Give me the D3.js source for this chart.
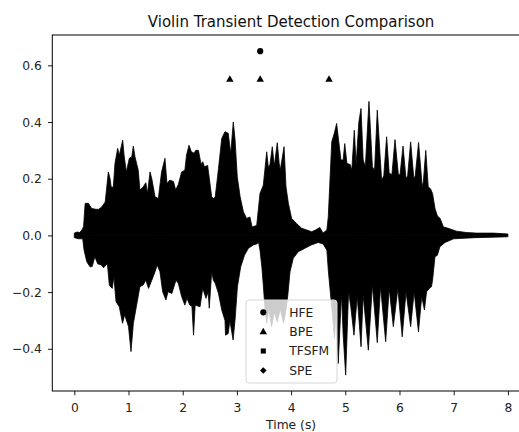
<!DOCTYPE html>
<html>
<head>
<meta charset="utf-8">
<script src="https://cdn.jsdelivr.net/npm/d3@7"></script>
<style>
  body { margin: 0; background: #fff; }
  svg { display: block; font-family: "DejaVu Sans", sans-serif; }
</style>
</head>
<body>
<svg id="chart" width="519" height="432"></svg>
<script>
// Waveform envelope of the violin recording (seconds, amplitude)
const upperTime = [0.00,0.05,0.10,0.14,0.17,0.20,0.26,0.32,0.40,0.45,0.505,0.57,0.628,0.66,0.68,0.72,0.75,0.80,0.83,0.893,0.92,0.96,1.015,1.06,1.089,1.12,1.18,1.21,1.27,1.32,1.35,1.397,1.43,1.49,1.55,1.61,1.673,1.71,1.76,1.83,1.87,1.92,1.98,2.04,2.07,2.116,2.16,2.21,2.24,2.29,2.34,2.37,2.40,2.46,2.535,2.57,2.60,2.66,2.72,2.78,2.84,2.886,2.933,2.965,3.007,3.06,3.12,3.18,3.24,3.28,3.365,3.426,3.487,3.55,3.58,3.61,3.653,3.69,3.745,3.78,3.80,3.87,3.906,3.95,4.01,4.10,4.195,4.29,4.38,4.45,4.53,4.59,4.66,4.686,4.75,4.797,4.84,4.88,4.92,4.96,4.99,5.03,5.09,5.12,5.166,5.20,5.25,5.29,5.33,5.37,5.437,5.50,5.54,5.59,5.67,5.71,5.763,5.81,5.86,5.917,5.98,6.01,6.065,6.12,6.15,6.206,6.265,6.29,6.352,6.42,6.44,6.485,6.53,6.57,6.61,6.655,6.70,6.75,6.81,6.90,7.05,7.24,7.42,7.73,8.00];
const upperAmp = [0.008,0.012,0.010,0.019,0.030,0.113,0.113,0.095,0.092,0.092,0.100,0.118,0.224,0.200,0.171,0.170,0.254,0.307,0.283,0.336,0.280,0.224,0.272,0.277,0.315,0.277,0.230,0.160,0.171,0.186,0.148,0.224,0.200,0.136,0.130,0.224,0.272,0.183,0.195,0.190,0.160,0.180,0.224,0.230,0.283,0.318,0.295,0.290,0.300,0.300,0.250,0.260,0.242,0.247,0.136,0.130,0.136,0.236,0.342,0.366,0.360,0.289,0.400,0.340,0.207,0.136,0.083,0.060,0.065,0.030,0.035,0.148,0.177,0.295,0.240,0.250,0.313,0.245,0.327,0.254,0.230,0.313,0.171,0.113,0.060,0.042,0.025,0.019,0.013,0.019,0.028,0.008,0.019,0.066,0.330,0.360,0.395,0.330,0.266,0.266,0.324,0.254,0.250,0.230,0.371,0.250,0.400,0.448,0.266,0.243,0.473,0.242,0.230,0.442,0.195,0.210,0.348,0.219,0.215,0.338,0.213,0.215,0.315,0.200,0.210,0.330,0.200,0.210,0.328,0.171,0.190,0.300,0.171,0.165,0.148,0.095,0.068,0.060,0.030,0.025,0.015,0.010,0.008,0.008,0.005];
const lowerTime = [0.00,0.08,0.155,0.18,0.23,0.29,0.33,0.38,0.43,0.505,0.54,0.61,0.646,0.70,0.73,0.77,0.83,0.89,0.93,1.00,1.046,1.09,1.15,1.21,1.27,1.32,1.37,1.43,1.49,1.53,1.58,1.63,1.69,1.73,1.80,1.876,1.92,1.98,2.04,2.08,2.13,2.17,2.20,2.23,2.32,2.37,2.43,2.47,2.49,2.535,2.565,2.60,2.66,2.72,2.78,2.79,2.84,2.87,2.93,2.965,3.01,3.07,3.14,3.21,3.30,3.365,3.40,3.426,3.46,3.487,3.52,3.55,3.59,3.64,3.69,3.745,3.80,3.86,3.906,3.94,3.98,4.04,4.13,4.25,4.37,4.50,4.59,4.66,4.686,4.72,4.76,4.80,4.83,4.87,4.93,4.96,5.007,5.06,5.10,5.16,5.22,5.29,5.33,5.425,5.50,5.59,5.65,5.745,5.81,5.886,5.97,6.05,6.12,6.206,6.27,6.35,6.41,6.46,6.50,6.55,6.59,6.61,6.655,6.70,6.745,6.84,7.00,7.40,8.00];
const lowerAmp = [-0.008,-0.012,-0.012,-0.052,-0.093,-0.111,-0.110,-0.075,-0.100,-0.105,-0.114,-0.100,-0.175,-0.187,-0.146,-0.234,-0.252,-0.310,-0.280,-0.322,-0.410,-0.310,-0.246,-0.181,-0.175,-0.158,-0.187,-0.158,-0.128,-0.105,-0.128,-0.199,-0.228,-0.199,-0.205,-0.158,-0.170,-0.216,-0.246,-0.222,-0.246,-0.250,-0.352,-0.246,-0.252,-0.187,-0.222,-0.199,-0.257,-0.128,-0.158,-0.169,-0.205,-0.263,-0.300,-0.352,-0.346,-0.300,-0.369,-0.300,-0.181,-0.111,-0.070,-0.046,-0.034,-0.030,-0.025,-0.052,-0.111,-0.175,-0.263,-0.310,-0.260,-0.322,-0.270,-0.305,-0.260,-0.310,-0.263,-0.210,-0.128,-0.081,-0.058,-0.046,-0.034,-0.025,-0.030,-0.052,-0.122,-0.193,-0.275,-0.363,-0.275,-0.452,-0.205,-0.350,-0.493,-0.199,-0.250,-0.352,-0.216,-0.393,-0.210,-0.405,-0.175,-0.378,-0.181,-0.375,-0.187,-0.322,-0.187,-0.358,-0.199,-0.322,-0.199,-0.340,-0.216,-0.263,-0.199,-0.187,-0.181,-0.158,-0.075,-0.070,-0.040,-0.025,-0.012,-0.008,-0.005];

// Detected transients per method
const methods = ["HFE", "BPE", "TFSFM", "SPE"];
const hfeTimes = [3.43];
const hfeLevel = 0.65;
const bpeTimes = [2.87, 3.43, 4.70];
const bpeLevel = 0.55;
const tfsfmTimes = [];
const speTimes = [];

const xTicks = [0, 1, 2, 3, 4, 5, 6, 7, 8];
const yTicks = [-0.4, -0.2, 0.0, 0.2, 0.4, 0.6];

const titleText = "Violin Transient Detection Comparison";
const xLabel = "Time (s)";

const svg = d3.select("#chart");
const plotLeft = 52.3, plotRight = 529.9, plotTop = 35, plotBottom = 391;

const x = d3.scaleLinear().domain([-0.406, 8.406]).range([plotLeft, plotRight]);
const y = d3.scaleLinear().domain([-0.549, 0.707]).range([plotBottom, plotTop]);

svg.append("defs").append("clipPath").attr("id", "plotClip")
  .append("rect").attr("x", plotLeft).attr("y", plotTop)
  .attr("width", plotRight - plotLeft).attr("height", plotBottom - plotTop);

const plot = svg.append("g").attr("clip-path", "url(#plotClip)");

// Waveform: filled between envelope and zero line
const upper = upperTime.map((t, i) => [t, upperAmp[i]]);
const lower = lowerTime.map((t, i) => [t, lowerAmp[i]]);
const area = d3.area().x(d => x(d[0])).y0(y(0)).y1(d => y(d[1]));
[upper, lower].forEach(series => {
  plot.append("path").datum(series).attr("d", area)
    .attr("fill", "#000").attr("stroke", "#000")
    .attr("stroke-width", 0.8).attr("stroke-linejoin", "miter");
});

// Marker shapes per method
const shapes = {
  HFE: d3.symbol().type(d3.symbolCircle).size(30),
  BPE: d3.symbol().type(d3.symbolTriangle).size(24),
  TFSFM: d3.symbol().type(d3.symbolSquare).size(26),
  SPE: d3.symbol().type(d3.symbolSquare).size(22)
};
const rot = { HFE: 0, BPE: 0, TFSFM: 0, SPE: 45 };

const markerSets = [
  { name: "HFE", times: hfeTimes, level: hfeLevel },
  { name: "BPE", times: bpeTimes, level: bpeLevel },
  { name: "TFSFM", times: tfsfmTimes, level: 0.45 },
  { name: "SPE", times: speTimes, level: 0.35 }
];
markerSets.forEach(s => {
  plot.selectAll(null).data(s.times).enter().append("path")
    .attr("d", shapes[s.name]())
    .attr("transform", t => `translate(${x(t)},${y(s.level)}) rotate(${rot[s.name]})`)
    .attr("fill", "#000");
});

// Frame
svg.append("rect").attr("x", plotLeft).attr("y", plotTop)
  .attr("width", plotRight - plotLeft).attr("height", plotBottom - plotTop)
  .attr("fill", "none").attr("stroke", "#000").attr("stroke-width", 1);

// X axis
const xAxis = d3.axisBottom(x).tickValues(xTicks).tickSize(4.3).tickPadding(4)
  .tickFormat(d3.format("d"));
const gx = svg.append("g").attr("transform", `translate(0,${plotBottom})`).call(xAxis);
gx.select(".domain").remove();
gx.selectAll("line").attr("stroke", "#000").attr("stroke-width", 0.9);
gx.selectAll("text").attr("font-size", 12.3).attr("fill", "#222")
  .attr("font-family", "DejaVu Sans").attr("y", 20.6).attr("dy", 0);

// Y axis
const yAxis = d3.axisLeft(y).tickValues(yTicks).tickSize(4.3).tickPadding(6)
  .tickFormat(d3.format(".1f"));
const gy = svg.append("g").attr("transform", `translate(${plotLeft},0)`).call(yAxis);
gy.select(".domain").remove();
gy.selectAll("line").attr("stroke", "#000").attr("stroke-width", 0.9);
gy.selectAll("text").attr("font-size", 12.3).attr("fill", "#222")
  .attr("font-family", "DejaVu Sans").attr("x", -10.5).attr("dy", "0.34em");

// Title and axis label
svg.append("text").attr("x", (plotLeft + plotRight) / 2).attr("y", 26.5)
  .attr("text-anchor", "middle").attr("font-size", 15).attr("fill", "#111")
  .text(titleText);
svg.append("text").attr("x", (plotLeft + plotRight) / 2).attr("y", 429)
  .attr("text-anchor", "middle").attr("font-size", 12.3).attr("fill", "#222")
  .text(xLabel);

// Legend
const lg = svg.append("g");
lg.append("rect").attr("x", 246).attr("y", 300).attr("width", 91).attr("height", 83)
  .attr("rx", 3).attr("fill", "#fff").attr("fill-opacity", 0.8)
  .attr("stroke", "#d6d6d6").attr("stroke-width", 1);
const rowY = [312.3, 332, 351, 370.5];
methods.forEach((m, i) => {
  lg.append("path").attr("d", shapes[m]())
    .attr("transform", `translate(263.3,${rowY[i]}) rotate(${rot[m]})`)
    .attr("fill", "#000");
  lg.append("text").attr("x", 289.3).attr("y", rowY[i]).attr("dy", "0.36em")
    .attr("font-size", 12.3).attr("fill", "#222").text(m);
});
</script>
</body>
</html>
